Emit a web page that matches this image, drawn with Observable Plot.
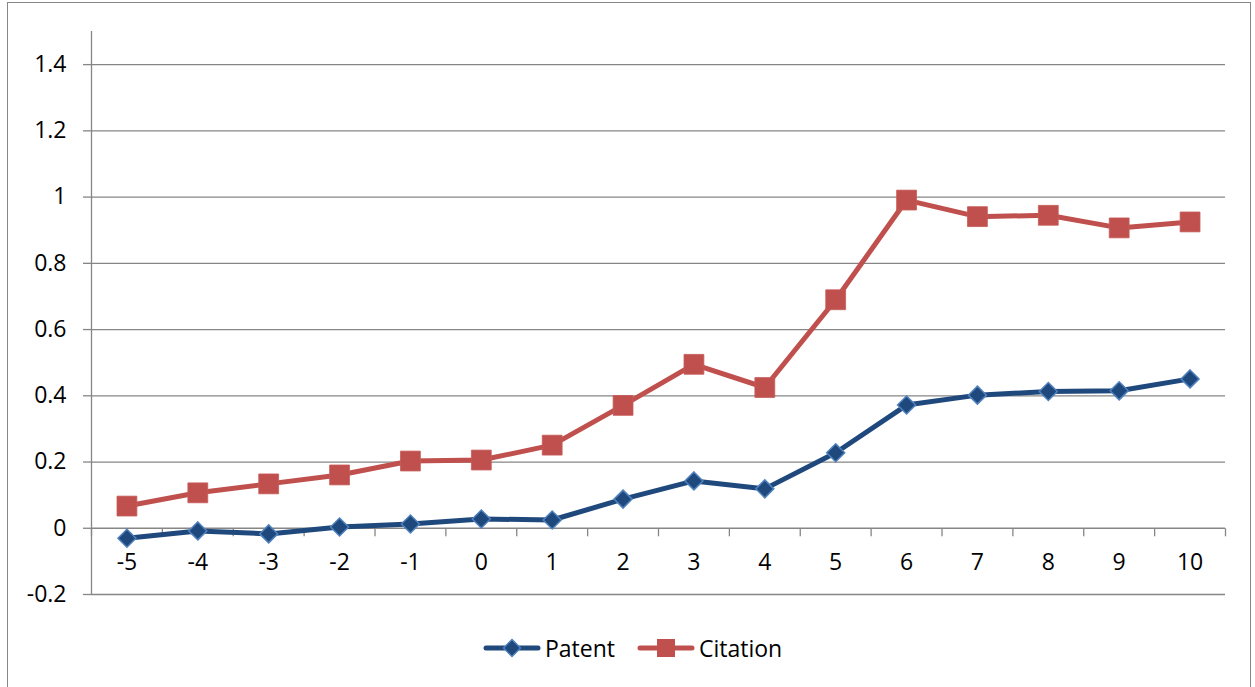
<!DOCTYPE html>
<html>
<head>
<meta charset="utf-8">
<script src="https://cdn.jsdelivr.net/npm/d3@7"></script>
<script src="https://cdn.jsdelivr.net/npm/@observablehq/plot@0.6"></script>
<style>
  body { margin: 0; background: #fff; font-family: "Open Sans", sans-serif; }
  #wrap { position: relative; width: 1255px; height: 687px; overflow: hidden; }
  #frame { position: absolute; left: 7px; top: 2px; width: 1244px; height: 720px;
           border: 1.5px solid #878787; box-sizing: border-box; }
  #chart { position: absolute; left: 0; top: 0; }
  .item { position: absolute; top: 633px; height: 30px; display: flex; align-items: center;
          font-size: 23px; color: #000; line-height: 30px; }
  .item svg { margin-right: 4px; }
</style>
</head>
<body>
<div id="wrap">
  <div id="frame"></div>
  <div id="chart"></div>
  <div class="item" style="left:483px">
    <svg width="58" height="30"><line x1="3" y1="15" x2="55" y2="15" stroke="#1F497D" stroke-width="5" stroke-linecap="round"/>
      <path d="M29,6.5 L37.5,15 L29,23.5 L20.5,15 Z" fill="#1F497D" stroke="#4F81BD" stroke-width="1.5"/></svg>
    <span>Patent</span>
  </div>
  <div class="item" style="left:637px">
    <svg width="58" height="30"><line x1="3" y1="15" x2="55" y2="15" stroke="#C0504D" stroke-width="5" stroke-linecap="round"/>
      <rect x="20" y="6" width="18" height="18" fill="#C0504D"/></svg>
    <span>Citation</span>
  </div>
</div>
<script>
// Years relative to the event, and the two series
const years = [-5, -4, -3, -2, -1, 0, 1, 2, 3, 4, 5, 6, 7, 8, 9, 10];
const patent = [-0.03, -0.008, -0.017, 0.004, 0.013, 0.028, 0.025, 0.088, 0.143, 0.119, 0.228, 0.372, 0.402, 0.413, 0.415, 0.451];
const citation = [0.067, 0.107, 0.134, 0.161, 0.203, 0.206, 0.251, 0.371, 0.495, 0.425, 0.69, 0.991, 0.941, 0.945, 0.907, 0.925];

// Value axis ticks and their labels
const yTicks = [-0.2, 0, 0.2, 0.4, 0.6, 0.8, 1, 1.2, 1.4];
const yTickLabels = ["-0.2", "0", "0.2", "0.4", "0.6", "0.8", "1", "1.2", "1.4"];

const patentRows = years.map((year, i) => ({year, value: patent[i]}));
const citationRows = years.map((year, i) => ({year, value: citation[i]}));

// Category boundaries: tick marks sit between the years
const bounds = years.map(d => d - 0.5).concat([years[years.length - 1] + 0.5]);
const labelOf = new Map(yTicks.map((t, i) => [t, yTickLabels[i]]));

// A short downward stroke used as a category tick mark
const tickMark = { draw(ctx) { ctx.moveTo(0, 0); ctx.lineTo(0, 8); } };

const grid = "#868686";

const chart = Plot.plot({
  width: 1255,
  height: 610,
  marginLeft: 91,
  marginRight: 30,
  marginTop: 31,
  marginBottom: 16,
  style: { fontFamily: "'Open Sans', sans-serif", fontSize: "23px", color: "#000", background: "transparent" },
  x: { domain: [bounds[0], bounds[bounds.length - 1]], axis: null },
  y: { domain: [-0.2, 1.5], axis: null },
  marks: [
    Plot.ruleY(yTicks, { stroke: grid, strokeWidth: 1.3 }),
    Plot.axisY(yTicks, {
      anchor: "left", tickSize: 8, tickPadding: 17, stroke: grid, strokeWidth: 1.3,
      fill: "#000", fontSize: 23, tickFormat: d => labelOf.get(d), label: null
    }),
    Plot.ruleX([bounds[0]], { stroke: grid, strokeWidth: 1.3 }),
    Plot.dot(bounds, { x: d => d, y: 0, symbol: tickMark, r: 4, fill: "none", stroke: grid, strokeWidth: 1.3 }),
    Plot.text(years, { x: d => d, y: 0, text: d => String(d), dy: 34, fontSize: 23, fill: "#000" }),
    Plot.line(patentRows, { x: "year", y: "value", stroke: "#1F497D", strokeWidth: 5, strokeLinejoin: "round", strokeLinecap: "round" }),
    Plot.line(citationRows, { x: "year", y: "value", stroke: "#C0504D", strokeWidth: 5, strokeLinejoin: "round", strokeLinecap: "round" }),
    Plot.dot(patentRows, { x: "year", y: "value", symbol: "diamond2", r: 8.1, fill: "#1F497D", stroke: "#4F81BD", strokeWidth: 1.5 }),
    Plot.dot(citationRows, { x: "year", y: "value", symbol: "square", r: 11.2, fill: "#C0504D", stroke: "#C65B58", strokeWidth: 0.8 })
  ]
});
document.getElementById("chart").appendChild(chart);
</script>
</body>
</html>
